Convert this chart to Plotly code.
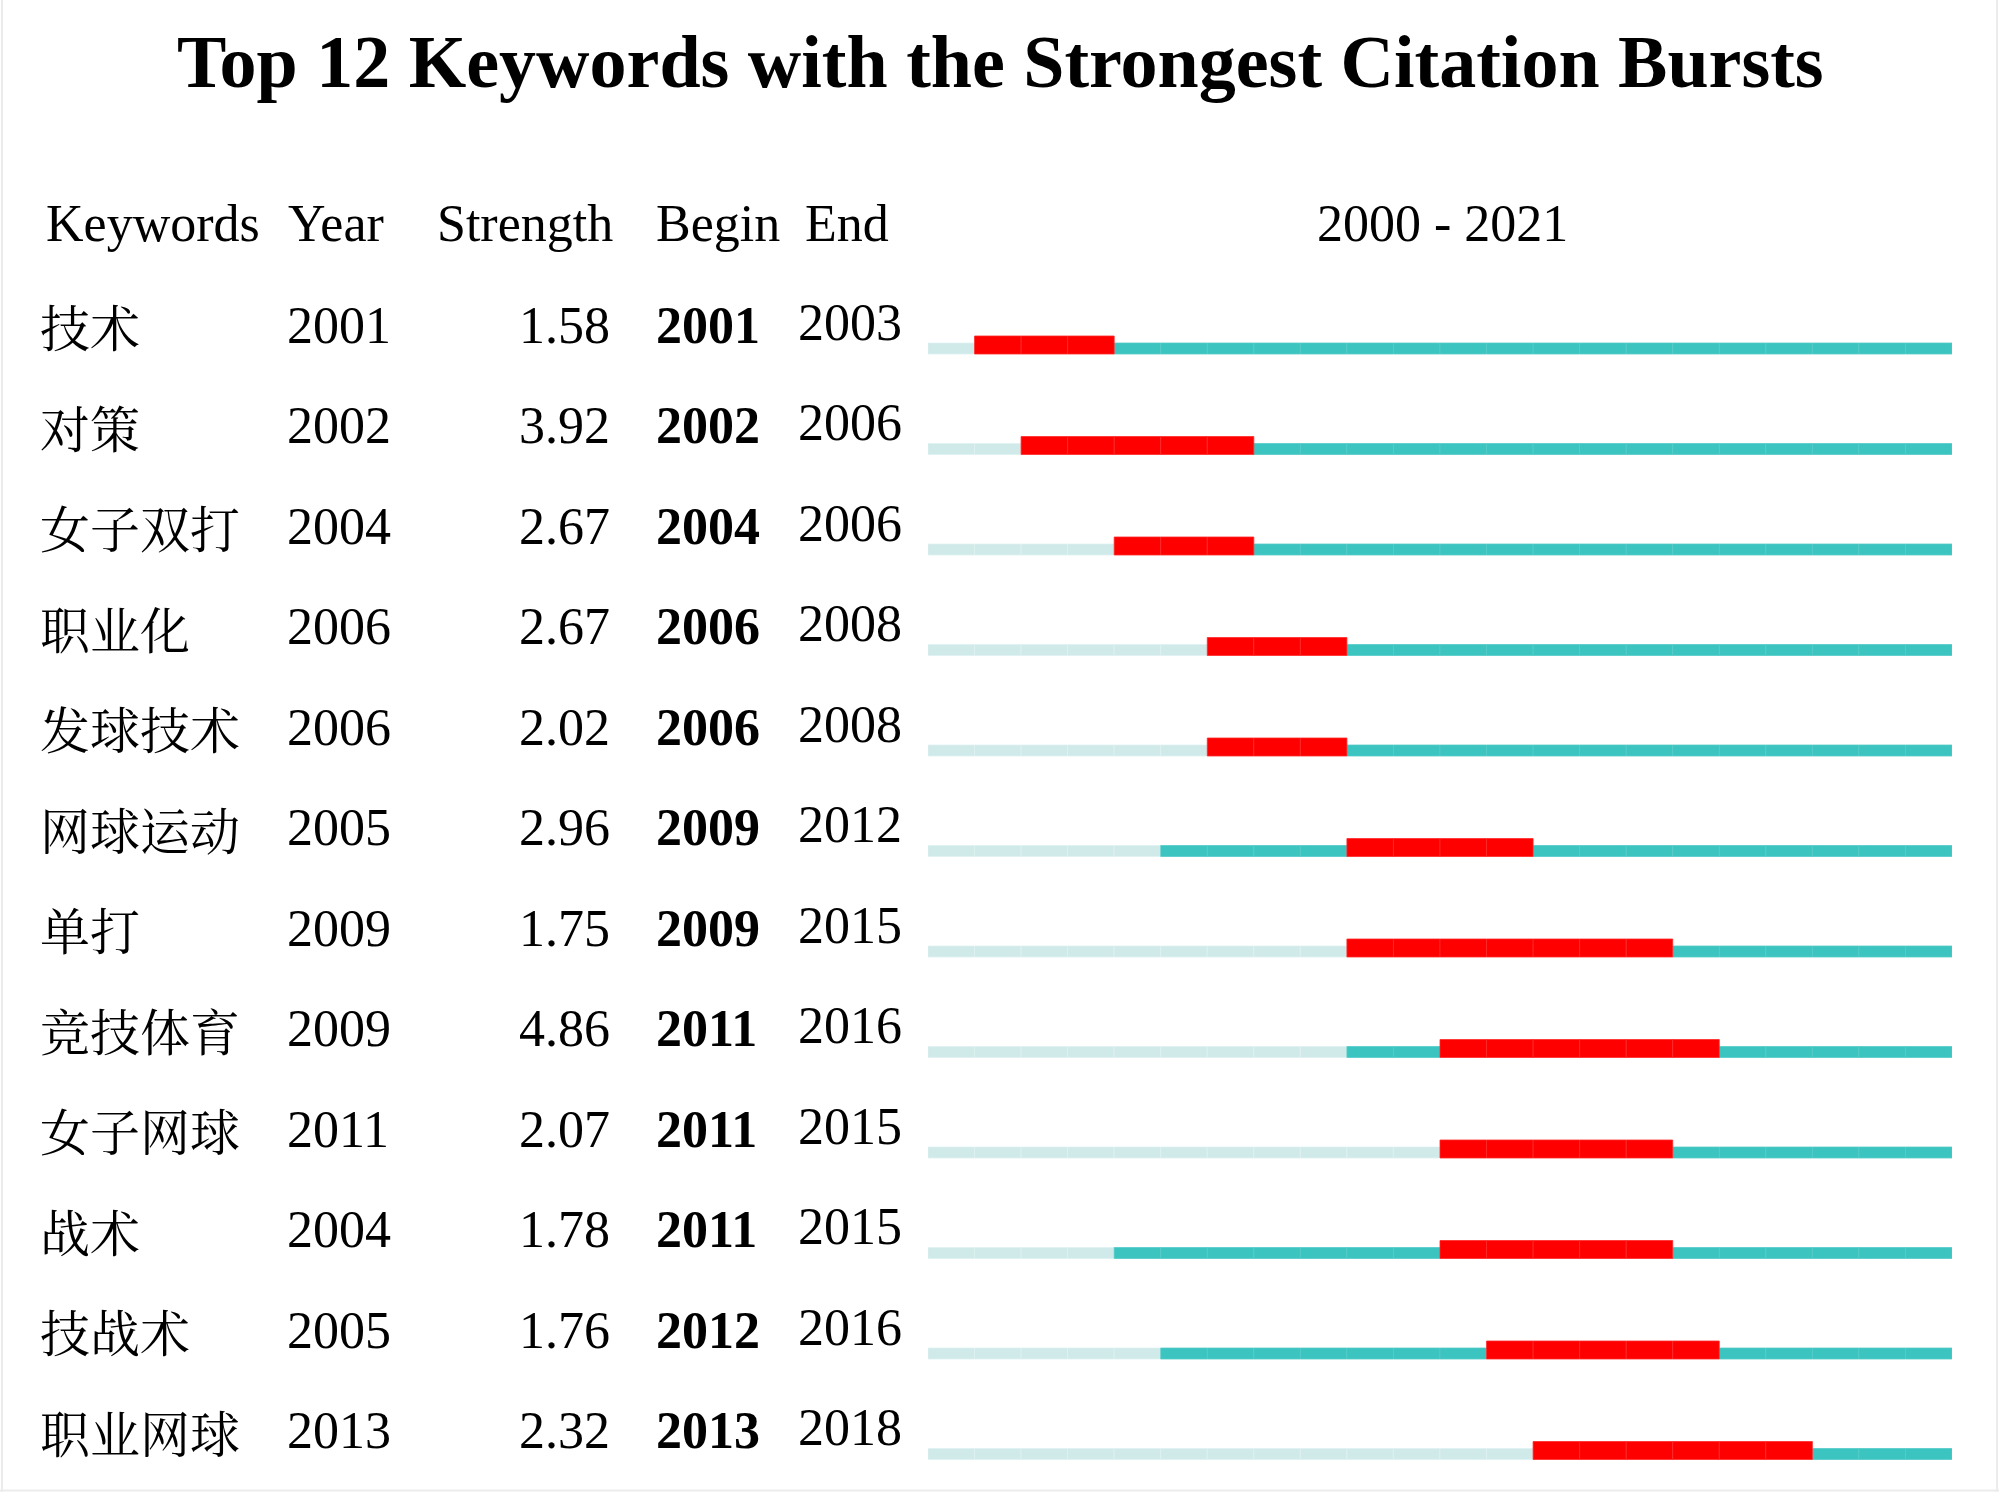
import plotly.graph_objects as go

# ---------------- data ----------------
keywords = ["技术", "对策", "女子双打", "职业化", "发球技术", "网球运动",
            "单打", "竞技体育", "女子网球", "战术", "技战术", "职业网球"]
years = [2001, 2002, 2004, 2006, 2006, 2005, 2009, 2009, 2011, 2004, 2005, 2013]
strength = [1.58, 3.92, 2.67, 2.67, 2.02, 2.96, 1.75, 4.86, 2.07, 1.78, 1.76, 2.32]
begin = [2001, 2002, 2004, 2006, 2006, 2009, 2009, 2011, 2011, 2011, 2012, 2013]
end = [2003, 2006, 2006, 2008, 2008, 2012, 2015, 2016, 2015, 2015, 2016, 2018]
period_start, period_end = 2000, 2021
headers = ["Keywords", "Year", "Strength", "Begin", "End"]
title_text = "Top 12 Keywords with the Strongest Citation Bursts"

W, H = 1999, 1492
SERIF = "Liberation Serif, Times New Roman, serif"
CJK = "Noto Serif CJK SC, Noto Sans CJK SC, serif"

LIGHT = "#d0eaea"
TEAL = "#3bc4c0"
RED = "#ff0000"

# ---------------- build bar segments ----------------
seg = {"light": ([], []), "teal": ([], []), "red": ([], [])}
for i in range(len(keywords)):
    row = i + 1
    for yr in range(period_start, period_end + 1):
        if yr < years[i]:
            k = "light"
        elif begin[i] <= yr <= end[i]:
            k = "red"
        else:
            k = "teal"
        seg[k][0].append(yr)
        seg[k][1].append(row)

row_px = 100.5           # pixel height of one row
red_h = 18 / row_px
thin_h = 11 / row_px

fig = go.Figure()
for k, color, lc, h in [("light", LIGHT, "#dff1f1", thin_h),
                        ("teal", TEAL, "#55ccc8", thin_h),
                        ("red", RED, "#ff2a2a", red_h)]:
    xs, ys = seg[k]
    fig.add_trace(go.Bar(
        x=[1] * len(xs), base=xs, y=ys, orientation="h",
        width=h, offset=-h,
        marker=dict(color=color, line=dict(color=lc, width=0.8)),
        hoverinfo="skip", showlegend=False))

# y axis: row value r -> bar bottom pixel 354 + (r-1)*row_px
top_val = 1 - 354 / row_px
bot_val = 1 + (H - 354) / row_px
x0_px, x1_px = 928, 1952

fig.update_layout(
    width=W, height=H,
    margin=dict(l=0, r=0, t=0, b=0),
    paper_bgcolor="white", plot_bgcolor="white",
    barmode="overlay",
    xaxis=dict(domain=[x0_px / W, x1_px / W], range=[period_start, period_end + 1],
               visible=False, fixedrange=True),
    yaxis=dict(domain=[0, 1], range=[bot_val, top_val], visible=False, fixedrange=True),
)

ann = []
# title
ann.append(dict(text="<b>" + title_text + "</b>", xref="paper", yref="paper",
                x=1000 / W, y=1 - 62 / H, xanchor="center", yanchor="middle",
                showarrow=False, font=dict(family=SERIF, size=74, color="black")))
# headers
hdr_y = 1 - 224 / H
hdr_pos = [(44, "left"), (286, "left"), (615, "right"), (654, "left"), (803, "left")]
for txt, (px, anc) in zip(headers, hdr_pos):
    ann.append(dict(text=txt, xref="paper", yref="paper", x=px / W, y=hdr_y,
                    xanchor=anc, yanchor="middle", showarrow=False,
                    font=dict(family=SERIF, size=52, color="black")))
ann.append(dict(text=f"{period_start} - {period_end}", xref="paper", yref="paper",
                x=1442 / W, y=hdr_y, xanchor="center", yanchor="middle",
                showarrow=False, font=dict(family=SERIF, size=52, color="black")))

for i in range(len(keywords)):
    r = i + 1
    yc = r - 29 / row_px
    ann.append(dict(text=keywords[i], xref="paper", yref="y", x=38 / W, y=yc,
                    xanchor="left", yanchor="middle", showarrow=False,
                    font=dict(family=CJK, size=50, color="black")))
    ann.append(dict(text=str(years[i]), xref="paper", yref="y", x=285 / W, y=yc,
                    xanchor="left", yanchor="middle", showarrow=False,
                    font=dict(family=SERIF, size=52, color="black")))
    ann.append(dict(text=f"{strength[i]:.2f}", xref="paper", yref="y", x=612 / W, y=yc,
                    xanchor="right", yanchor="middle", showarrow=False,
                    font=dict(family=SERIF, size=52, color="black")))
    ann.append(dict(text="<b>" + str(begin[i]) + "</b>", xref="paper", yref="y",
                    x=654 / W, y=yc, xanchor="left", yanchor="middle", showarrow=False,
                    font=dict(family=SERIF, size=52, color="black")))
    ann.append(dict(text=str(end[i]), xref="paper", yref="y", x=796 / W,
                    y=yc - 3 / row_px, xanchor="left", yanchor="middle", showarrow=False,
                    font=dict(family=SERIF, size=52, color="black")))

fig.update_layout(annotations=ann)

# faint frame of the original image
for x0, y0, x1, y1 in [(0.001, 0, 0.001, 1), (0.999, 0, 0.999, 1), (0, 0.001, 1, 0.001)]:
    fig.add_shape(type="line", xref="paper", yref="paper", x0=x0, y0=y0, x1=x1, y1=y1,
                  line=dict(color="#ececec", width=2))

fig.write_html("out.html", config={"displayModeBar": False},
               post_script="document.body.style.margin='0';document.body.style.padding='0';")
